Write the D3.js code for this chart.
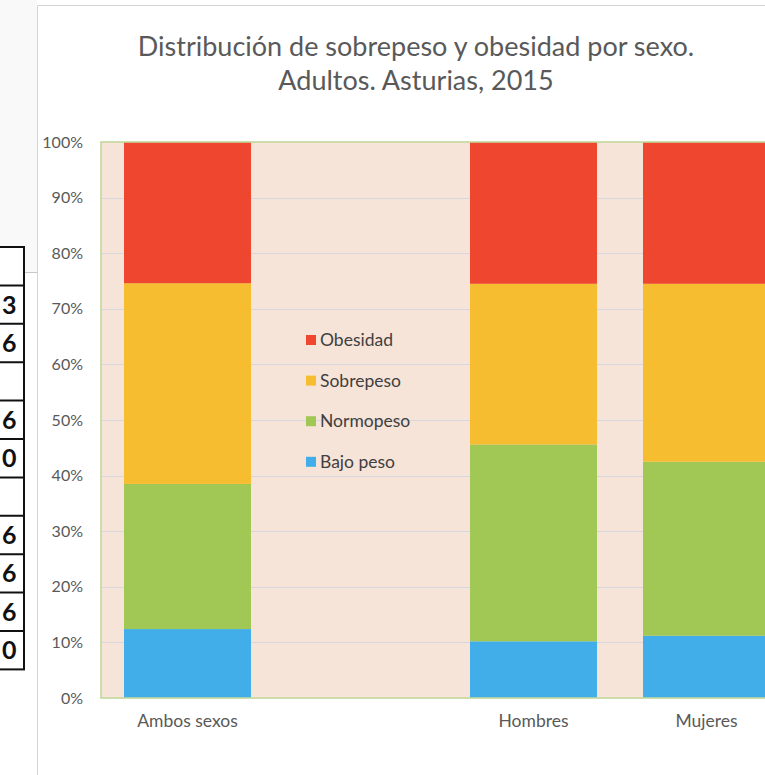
<!DOCTYPE html>
<html>
<head>
<meta charset="utf-8">
<script src="https://cdn.jsdelivr.net/npm/d3@7"></script>
<style>
  html, body { margin: 0; padding: 0; background: #ffffff; }
  svg { display: block; font-family: Lato, "Open Sans", sans-serif; }
</style>
</head>
<body>
<svg id="chart" width="765" height="775"></svg>
<script>
// ---- data ----
const categories = ["Ambos sexos", " ", "Hombres", "Mujeres"];
const seriesNames = ["Bajo peso", "Normopeso", "Sobrepeso", "Obesidad"];
const bajoPeso  = [12.4, 0, 10.2, 11.2];
const normopeso = [26.1, 0, 35.4, 31.3];
const sobrepeso = [36.1, 0, 28.9, 32.0];
const obesidad  = [25.4, 0, 25.5, 25.5];
const seriesColors = ["#41aeea", "#a1c755", "#f7bd31", "#ee462f"];
const yTicks = [0, 10, 20, 30, 40, 50, 60, 70, 80, 90, 100];
const titleLines = ["Distribución de sobrepeso y obesidad por sexo.", "Adultos. Asturias, 2015"];
const legendOrder = ["Obesidad", "Sobrepeso", "Normopeso", "Bajo peso"];
const tableDigits = ["3", "6", "", "6", "0", "", "6", "6", "6", "0"];

// ---- build table ----
const rows = categories.map((c, i) => ({
  cat: c,
  "Bajo peso": bajoPeso[i],
  "Normopeso": normopeso[i],
  "Sobrepeso": sobrepeso[i],
  "Obesidad": obesidad[i],
  empty: c.trim() === ""
}));

const svg = d3.select("#chart");

// ---- page fragments around the chart ----
svg.append("rect").attr("x", 0).attr("y", 0).attr("width", 37).attr("height", 272).attr("fill", "#f9f9f9");
svg.append("line").attr("x1", 0).attr("x2", 37).attr("y1", 272.5).attr("y2", 272.5)
  .attr("stroke", "#c8c8c8").attr("stroke-width", 1);

// table fragment on the left
const tableTop = 247, rowH = 38.4;
const tbl = svg.append("g");
tbl.append("rect").attr("x", -10).attr("y", tableTop).attr("width", 34).attr("height", rowH * (tableDigits.length + 1))
  .attr("fill", "#ffffff").attr("stroke", "#111").attr("stroke-width", 2);
tableDigits.forEach((d, i) => {
  const y0 = tableTop + rowH * (i + 1);
  tbl.append("line").attr("x1", -10).attr("x2", 24).attr("y1", y0).attr("y2", y0)
    .attr("stroke", "#111").attr("stroke-width", 2);
  tbl.append("text").attr("x", 2).attr("y", y0 + rowH / 2 + 9).attr("text-anchor", "start")
    .attr("font-size", 25).attr("font-weight", "bold").attr("fill", "#111").text(d);
});

// chart frame
svg.append("path").attr("d", "M37.5,775 V5.5 H765").attr("fill", "none")
  .attr("stroke", "#d4d4d4").attr("stroke-width", 1);

// ---- scales ----
const plot = { left: 101, top: 142, bottom: 698 };
const step = 173;
const x = d3.scaleBand().domain(categories)
  .range([plot.left, plot.left + step * categories.length])
  .paddingInner(0.266).paddingOuter(0.133);
const y = d3.scaleLinear().domain([0, 100]).range([plot.bottom, plot.top]);

// plot background
svg.append("rect").attr("x", plot.left).attr("y", plot.top)
  .attr("width", step * categories.length).attr("height", plot.bottom - plot.top)
  .attr("fill", "#f7e4d8");

// gridlines
svg.append("g").selectAll("line").data(yTicks.filter(t => t > 0 && t < 100)).join("line")
  .attr("x1", plot.left).attr("x2", plot.left + step * categories.length)
  .attr("y1", d => Math.round(y(d)) + 0.5).attr("y2", d => Math.round(y(d)) + 0.5)
  .attr("stroke", "#d6d8de").attr("stroke-width", 1.2);

// bars
const stack = d3.stack().keys(seriesNames);
const stacked = stack(rows);
svg.append("g").selectAll("g").data(stacked).join("g")
  .attr("fill", (d, i) => seriesColors[i])
  .selectAll("rect").data(d => d.filter(s => !s.data.empty)).join("rect")
  .attr("x", d => x(d.data.cat))
  .attr("width", x.bandwidth())
  .attr("y", d => y(d[1]))
  .attr("height", d => y(d[0]) - y(d[1]));

// plot border
svg.append("rect").attr("x", plot.left).attr("y", plot.top)
  .attr("width", step * categories.length).attr("height", plot.bottom - plot.top)
  .attr("fill", "none").attr("stroke", "#c2d89a").attr("stroke-width", 1.6);

// y axis
const yAxis = d3.axisLeft(y).tickValues(yTicks).tickSize(0).tickPadding(18)
  .tickFormat(d => d + "%");
const gy = svg.append("g").attr("transform", `translate(${plot.left},0)`).call(yAxis);
gy.select(".domain").remove();
gy.selectAll("text").attr("font-size", 16).attr("fill", "#595959").attr("font-family", "Lato, sans-serif");

// x axis
const xAxis = d3.axisBottom(x).tickSize(0).tickPadding(17);
const gx = svg.append("g").attr("transform", `translate(0,${plot.bottom})`).call(xAxis);
gx.select(".domain").remove();
gx.selectAll("text").attr("font-size", 17.5).attr("fill", "#595959").attr("font-family", "Lato, sans-serif");

// title
svg.append("g").selectAll("text").data(titleLines).join("text")
  .attr("x", 416).attr("y", (d, i) => 56 + i * 34)
  .attr("text-anchor", "middle").attr("font-size", 27).attr("fill", "#595959")
  .text(d => d);

// legend
const legend = svg.append("g").attr("transform", "translate(306,335)");
const li = legend.selectAll("g").data(legendOrder).join("g")
  .attr("transform", (d, i) => `translate(0,${i * 40.6})`);
li.append("rect").attr("width", 10).attr("height", 10)
  .attr("fill", d => seriesColors[seriesNames.indexOf(d)]);
li.append("text").attr("x", 14).attr("y", 11).attr("font-size", 17.5).attr("fill", "#404040")
  .text(d => d);
</script>
</body>
</html>
